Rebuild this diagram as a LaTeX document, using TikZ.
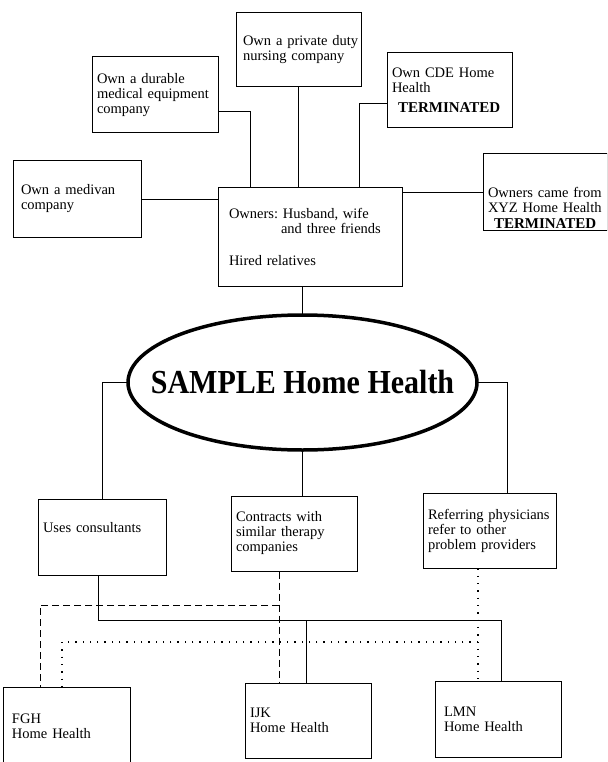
\documentclass[tikz,border=0pt]{standalone}
\usepackage{fontspec}
\setmainfont{Liberation Serif}
\newcommand{\boxfont}{\fontsize{14.5}{15}\selectfont}
\newcommand{\termfont}{\fontsize{15}{16}\selectfont\bfseries}
\newcommand{\titlefont}{\fontsize{30}{32}\selectfont\bfseries}
\tikzset{
  box/.style={draw, line width=1pt, rectangle, align=left, inner xsep=5pt, inner ysep=0pt, font=\boxfont,
    execute at begin node={\rightskip=0pt plus 1fil minus 30pt}},
  boxsize/.code 2 args={\pgfmathsetmacro\boxtw{#1-10}\pgfkeysalso{minimum width=#1pt, minimum height=#2pt, text width=\boxtw pt}},
  link/.style={line width=1pt},
  dashlink/.style={line width=1pt, dash pattern=on 7pt off 4pt},
  dotlink/.style={line width=1.3pt, dash pattern=on 1.3pt off 6pt}
}

\begin{document}
\begin{tikzpicture}[x=1pt, y=-1pt]
        \clip (0,0) rectangle (607,762);

        % owners and what they own
        \node[box, boxsize={125}{74}] (priv) at (298.5,50) {\hspace*{2pt}Own a private duty\\\hspace*{2pt}nursing company};
        \node[box, boxsize={126}{76}] (durable) at (155,95) {Own a durable\\medical equipment\\company};
        \node[box, boxsize={125}{75}] (cde) at (449.5,90.5) {Own CDE Home\\Health\\[5pt]\hspace*{6pt}{\termfont TERMINATED}};
        \node[box, boxsize={128}{76}] (medivan) at (77,199) {\hspace*{3pt}Own a medivan\\\hspace*{3pt}company};
        \node[box, boxsize={184}{99}] (owners) at (310,236.5) {\hspace*{6pt}Owners:\ Husband, wife\\\hspace*{58pt}and three friends\\[17pt]\hspace*{6pt}Hired relatives};
        \node[box, boxsize={124}{76}, text height=42pt] (xyz) at (545,192) {Owners came from\\XYZ Home Health\\[1pt]\hspace*{6pt}{\termfont TERMINATED}};

        % the agency
        \node[inner sep=0pt, minimum width=349pt, minimum height=135pt, font=\titlefont] (sample) at (302.5,382.5) {\scalebox{1}[1.12]{SAMPLE Home Health}};
        \draw[line width=3.5pt] (sample.center) ellipse [x radius=174.5, y radius=67.5];

        % practices
        \node[box, boxsize={128}{76}, text depth=20pt] (consult) at (102,537) {Uses consultants};
        \node[box, boxsize={126}{75}] (contracts) at (294,533.5) {Contracts with\\similar therapy\\companies};
        \node[box, boxsize={133}{75}] (refer) at (489.5,530.5) {Referring physicians\\refer to other\\problem providers};

        % other agencies
        \node[box, boxsize={127}{78}] (fgh) at (66.5,726) {\hspace*{4pt}FGH\\\hspace*{4pt}Home Health};
        \node[box, boxsize={126}{75}] (ijk) at (308,720.5) {IJK\\Home Health};
        \node[box, boxsize={126}{76}] (lmn) at (498,719) {\hspace*{4pt}LMN\\\hspace*{4pt}Home Health};

        % bends
        \coordinate (durBend) at (250,112);
        \coordinate (cdeBend) at (359,104);
        \coordinate (rightBend) at (507,382.5);
        \coordinate (solidL) at (98,620);
        \coordinate (solidM) at (306,620);
        \coordinate (solidR) at (501,620);
        \coordinate (dashC) at (279,605);
        \coordinate (dashL) at (40,605);
        \coordinate (dotR) at (478,642);
        \coordinate (dotL) at (62,642);

        % top links
        \draw[link] (medivan.east) -- (medivan.east -| owners.west);
        \draw[link] (durable.east |- durBend) -- (durBend) -- (durBend |- owners.north);
        \draw[link] (priv.south) -- (priv.south |- owners.north);
        \draw[link] (cde.west |- cdeBend) -- (cdeBend) -- (cdeBend |- owners.north);
        \draw[link] (xyz.west) -- (xyz.west -| owners.east);
        \draw[link] (sample.north |- owners.south) -- (sample.north);

        % middle links
        \draw[link] (sample.west) -| (consult.north);
        \draw[link] (sample.east) -- (rightBend) -- (rightBend |- refer.north);
        \draw[link] (sample.south) -- (sample.south |- contracts.north);

        % bottom links
        \draw[link] (solidL |- consult.south) -- (solidL) -- (solidR) -- (solidR |- lmn.north);
        \draw[link] (solidM) -- (solidM |- ijk.north);
        \draw[dashlink] (dashC |- contracts.south) -- (dashC |- ijk.north);
        \draw[dashlink] (dashC) -- (dashL) -- (dashL |- fgh.north);
        \draw[dotlink] (dotR |- refer.south) -- (dotR |- lmn.north);
        \draw[dotlink] (dotR) -- (dotL) -- (dotL |- fgh.north);
\end{tikzpicture}
\end{document}
